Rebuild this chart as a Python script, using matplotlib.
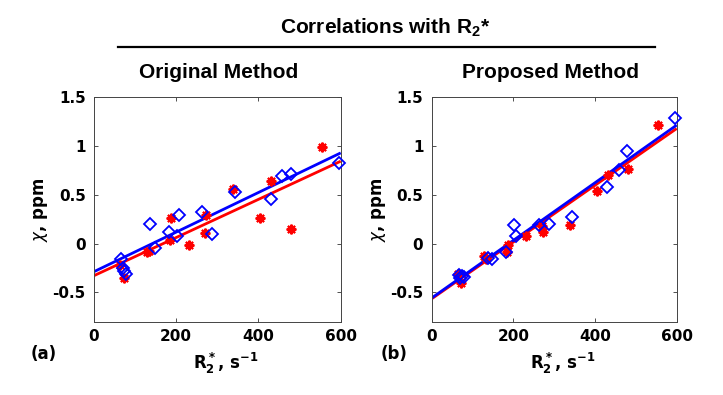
import matplotlib
matplotlib.use("Agg")
import matplotlib.pyplot as plt
from matplotlib.lines import Line2D

# ---------------- data ----------------
blue_x = [66, 70, 74, 79, 137, 148, 182, 202, 207, 263, 288, 344, 430, 458, 478, 595]
orig_blue_y = [-0.16, -0.25, -0.28, -0.31, 0.198, -0.048, 0.116, 0.082, 0.294, 0.321,
               0.104, 0.526, 0.455, 0.694, 0.718, 0.83]
prop_blue_y = [-0.32, -0.35, -0.33, -0.34, -0.15, -0.155, -0.085, 0.19, 0.08, 0.19,
               0.205, 0.27, 0.585, 0.755, 0.946, 1.286]

red_x = [64, 72, 128, 134, 184, 187, 230, 270, 273, 339, 404, 431, 480, 554]
orig_red_y = [-0.22, -0.35, -0.085, -0.075, 0.04, 0.265, -0.015, 0.105, 0.29, 0.555,
              0.266, 0.64, 0.155, 0.99]
prop_red_y = [-0.31, -0.40, -0.13, -0.16, -0.09, -0.01, 0.075, 0.18, 0.12, 0.19,
              0.54, 0.70, 0.77, 1.22]

fit_x = [0, 600]
orig_blue_fit = [-0.287, 0.93]
orig_red_fit = [-0.328, 0.845]
prop_blue_fit = [-0.557, 1.215]
prop_red_fit = [-0.565, 1.18]

x_ticks = [0, 200, 400, 600]
y_ticks = [-0.5, 0, 0.5, 1, 1.5]
y_ticklabels = ["-0.5", "0", "0.5", "1", "1.5"]

titles = ["Original Method", "Proposed Method"]
panel_labels = ["(a)", "(b)"]
suptitle = r"Correlations with R$_\mathregular{2}$*"

# ---------------- figure ----------------
W, H = 723, 395
fig = plt.figure(figsize=(W / 100, H / 100), dpi=100)

def box(x0, x1, ytop, ybot):
    return [x0 / W, 1 - ybot / H, (x1 - x0) / W, (ybot - ytop) / H]

ax_rects = [box(94, 340.7, 97.3, 321.7), box(431.7, 676.7, 97.3, 321.7)]
datasets = [
    (orig_blue_y, orig_red_y, orig_blue_fit, orig_red_fit),
    (prop_blue_y, prop_red_y, prop_blue_fit, prop_red_fit),
]

for i, (rect, (by, ry, bf, rf)) in enumerate(zip(ax_rects, datasets)):
    ax = fig.add_axes(rect)
    ax.plot(fit_x, rf, color="red", lw=2.0, zorder=2, solid_capstyle="butt")
    ax.plot(fit_x, bf, color="blue", lw=2.0, zorder=2, solid_capstyle="butt")
    ax.plot(red_x, ry, linestyle="none", marker=(8, 2, 0), markersize=7,
            markeredgewidth=1.5, color="red", zorder=3, clip_on=False)
    ax.plot(blue_x, by, linestyle="none", marker="D", markersize=5.8,
            markerfacecolor="none", markeredgecolor="blue",
            markeredgewidth=1.3, zorder=4, clip_on=False)
    ax.set_xlim(0, 600)
    ax.set_ylim(-0.8, 1.5)
    ax.set_xticks(x_ticks)
    ax.set_xticklabels([str(t) for t in x_ticks])
    ax.set_yticks(y_ticks)
    ax.set_yticklabels(y_ticklabels)
    ax.tick_params(direction="in", length=3, width=0.6, top=True, right=True,
                   labelsize=11, pad=5, colors="#333333", labelcolor="black")
    ax.tick_params(axis="y", pad=6)
    for lab in ax.get_xticklabels() + ax.get_yticklabels():
        lab.set_fontweight("bold")
    for sp in ax.spines.values():
        sp.set_color("#444444")
        sp.set_linewidth(0.7)
    ax.set_xlabel(r"$\mathbf{R_2^*}$, s$^{\mathbf{-1}}$", fontsize=12,
                  fontweight="bold", va="center")
    ax.xaxis.set_label_coords(0.535, -0.185)
    ax.set_ylabel(r"$\chi$, ppm", fontsize=12, fontweight="bold", va="center")
    ax.yaxis.set_label_coords(-0.215, 0.5)

# titles
fig.text(385 / W, 1 - 28 / H, suptitle, ha="center", va="center",
         fontsize=15, fontweight="bold", family="Liberation Sans")
fig.add_artist(Line2D([118 / W, 655 / W], [1 - 47 / H, 1 - 47 / H],
                      color="black", lw=1.6))
fig.text(219 / W, 1 - 72 / H, titles[0], ha="center", va="center",
         fontsize=15, fontweight="bold", family="Liberation Sans")
fig.text(550 / W, 1 - 72 / H, titles[1], ha="center", va="center",
         fontsize=15, fontweight="bold", family="Liberation Sans")
fig.text(44 / W, 1 - 354 / H, panel_labels[0], ha="center", va="center",
         fontsize=12, fontweight="bold")
fig.text(394 / W, 1 - 354 / H, panel_labels[1], ha="center", va="center",
         fontsize=12, fontweight="bold")

fig.savefig("out.png", dpi=100, facecolor="white")
